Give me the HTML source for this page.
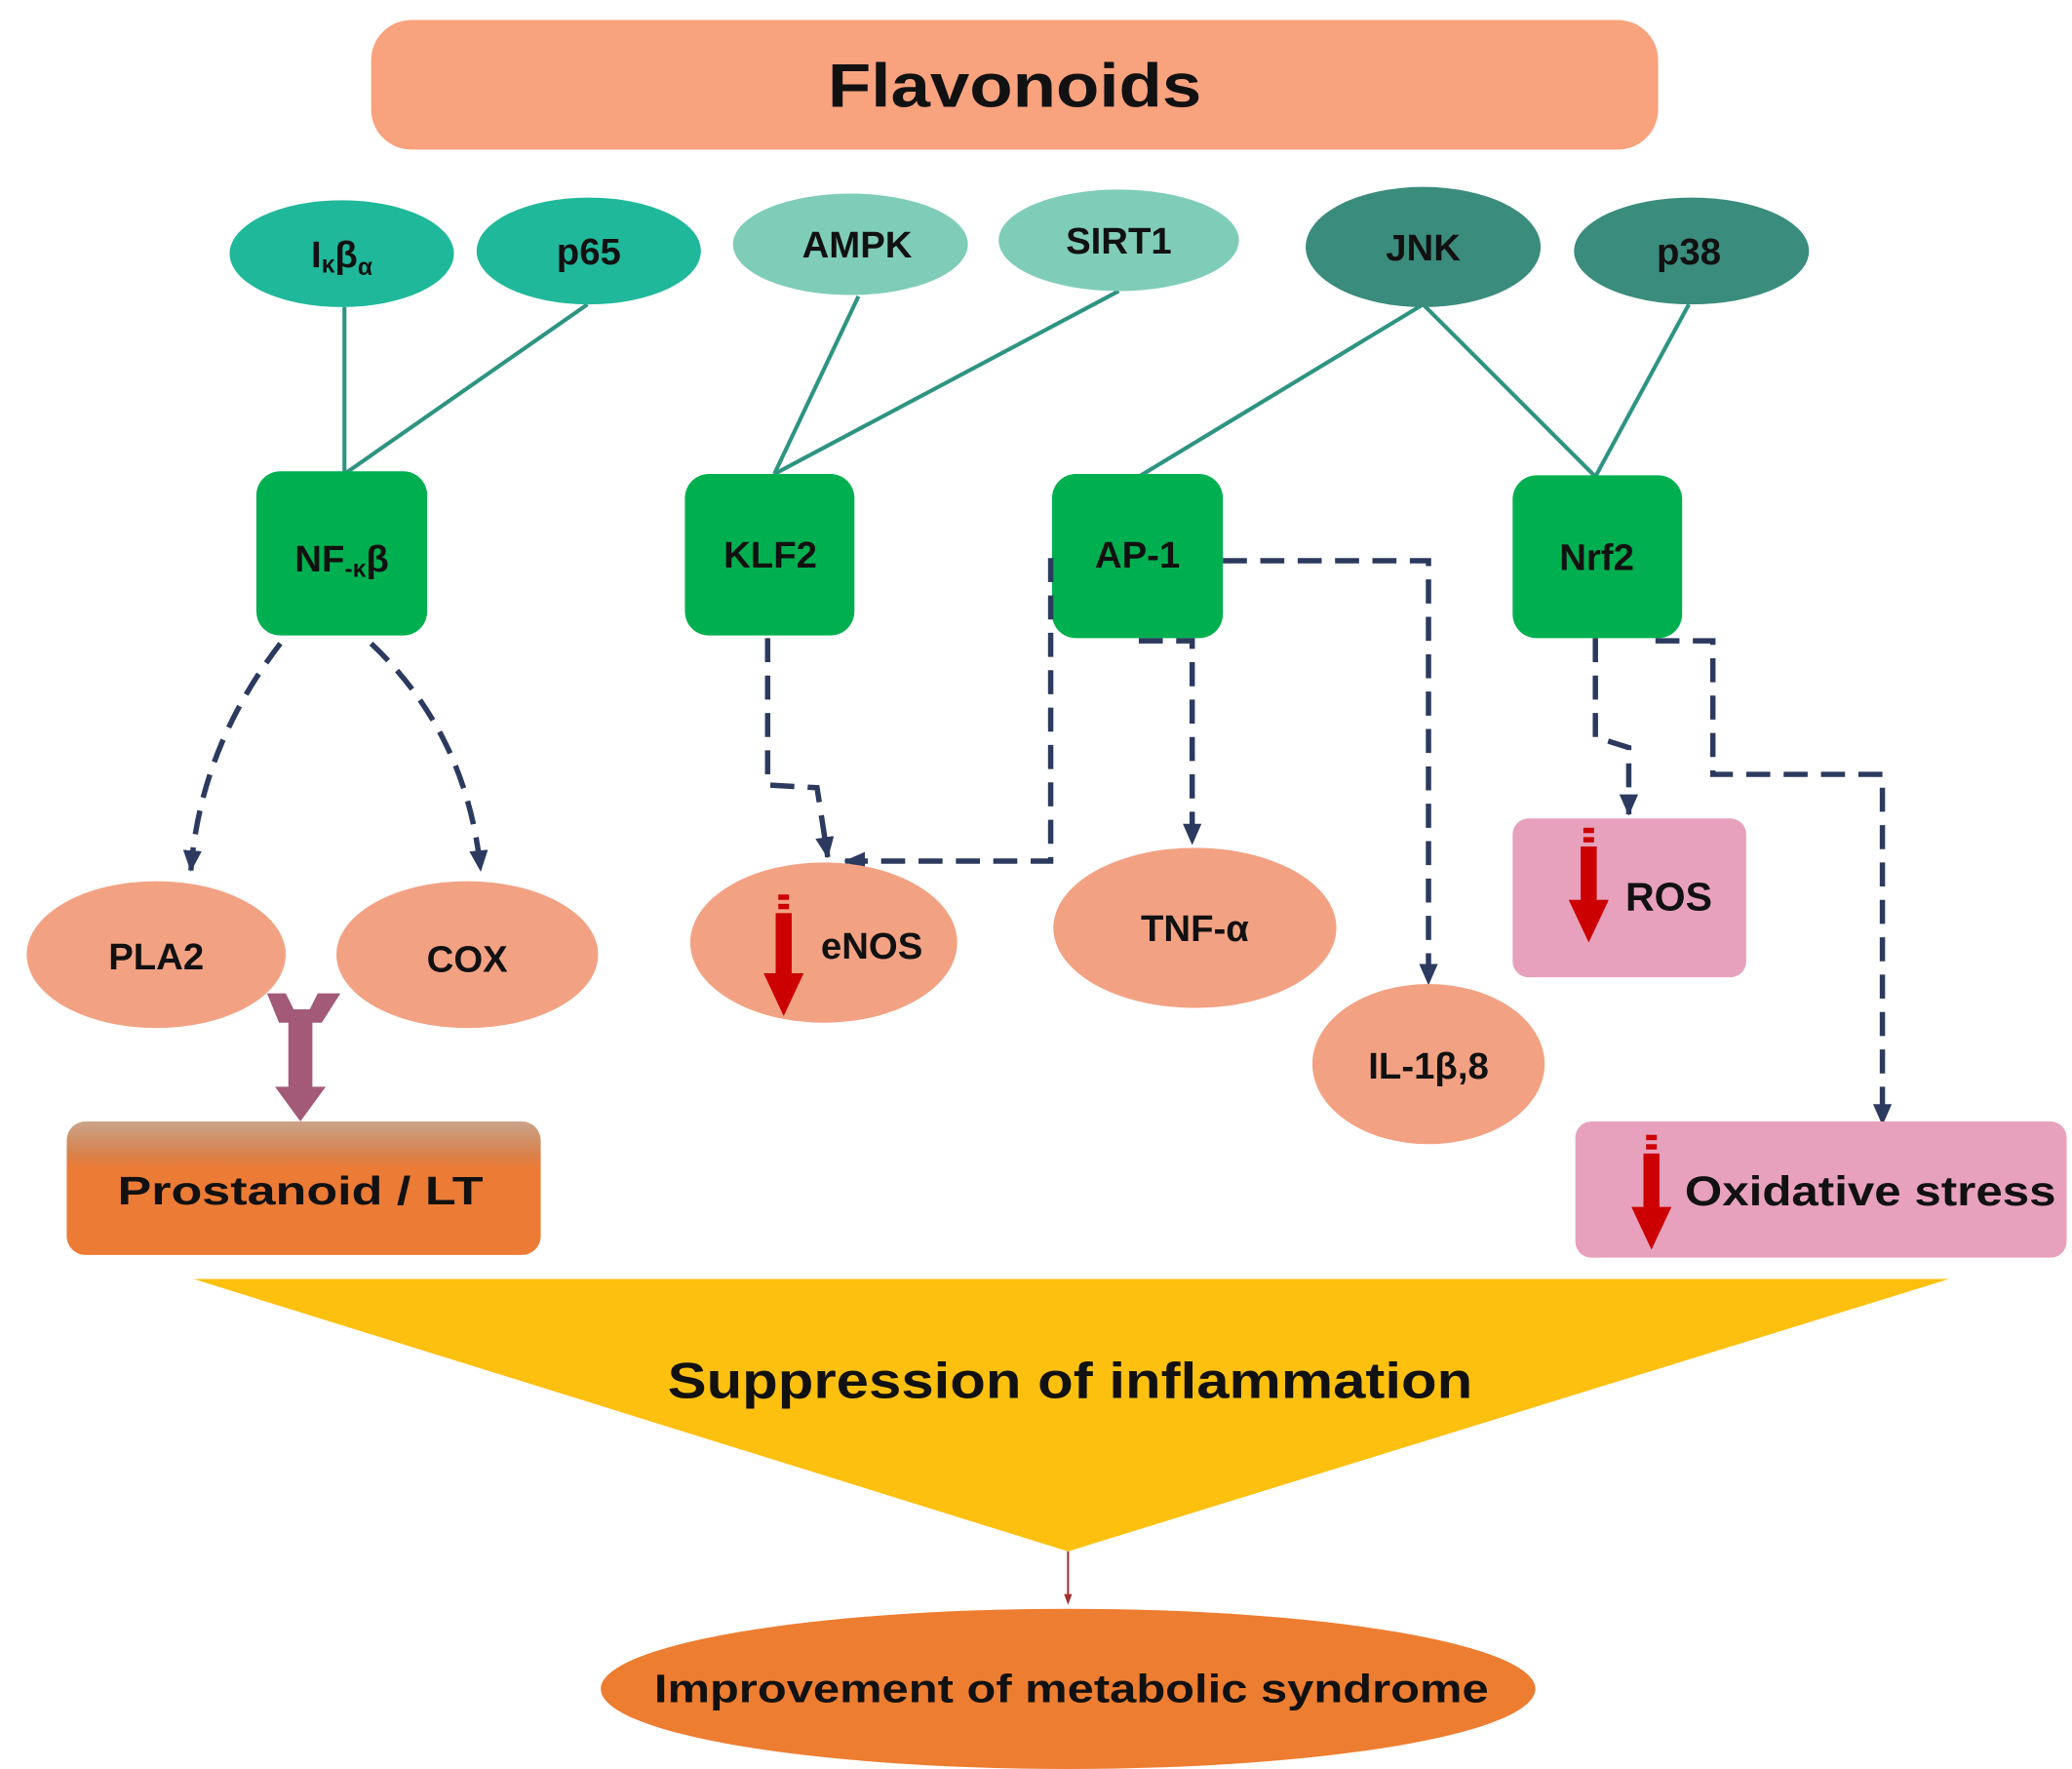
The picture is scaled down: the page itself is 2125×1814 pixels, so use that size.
<!DOCTYPE html>
<html><head><meta charset="utf-8"><style>
html,body{margin:0;padding:0;background:#fff}
svg{display:block}
text{font-family:"Liberation Sans",Arial,sans-serif;font-weight:bold;fill:#111}
</style></head><body>
<svg width="2125" height="1814" viewBox="0 0 1552 1325" preserveAspectRatio="none" xmlns="http://www.w3.org/2000/svg">
<defs>
<marker id="ah" markerWidth="16" markerHeight="16" refX="15" refY="8" orient="auto" markerUnits="userSpaceOnUse" viewBox="0 0 16 16"><path d="M0,1 L16,8 L0,15 z" fill="#2c3a5f"/></marker>
<linearGradient id="pg" x1="0" y1="0" x2="0" y2="1"><stop offset="0" stop-color="#c9a48a"/><stop offset="0.25" stop-color="#d9804a"/><stop offset="0.35" stop-color="#ec7b36"/><stop offset="1" stop-color="#ec7b36"/></linearGradient>
</defs>
<rect x="278" y="15" width="964" height="97" rx="30" fill="#f9a27e"/>
<text x="760" y="80" font-size="46" text-anchor="middle" textLength="280" lengthAdjust="spacingAndGlyphs">Flavonoids</text>
<g stroke="#2e9482" stroke-width="3" fill="none">
<line x1="258" y1="230" x2="258" y2="355"/><line x1="440" y1="228" x2="258" y2="355"/>
<line x1="643" y1="222" x2="580" y2="355"/><line x1="838" y1="218" x2="580" y2="355"/>
<line x1="1066" y1="228" x2="853" y2="357"/><line x1="1066" y1="228" x2="1195" y2="357"/>
<line x1="1265" y1="228" x2="1195" y2="357"/>
</g>
<ellipse cx="256" cy="190" rx="84" ry="40" fill="#20b89a"/>
<ellipse cx="441" cy="188" rx="84" ry="40" fill="#20b89a"/>
<ellipse cx="637" cy="183" rx="88" ry="38" fill="#7fcdb8"/>
<ellipse cx="838" cy="180" rx="90" ry="38" fill="#7fcdb8"/>
<ellipse cx="1066" cy="185" rx="88" ry="45" fill="#3a8c7c"/>
<ellipse cx="1267" cy="188" rx="88" ry="40" fill="#3a8c7c"/>
<text x="256" y="200" font-size="28" text-anchor="middle">I<tspan font-size="18" dy="4">κ</tspan><tspan dy="-4">β</tspan><tspan font-size="18" dy="6">α</tspan></text>
<text x="441" y="198" font-size="28" text-anchor="middle">p65</text>
<text x="642" y="193" font-size="28" text-anchor="middle">AMPK</text>
<text x="838" y="190" font-size="28" text-anchor="middle">SIRT1</text>
<text x="1066" y="195" font-size="28" text-anchor="middle">JNK</text>
<text x="1265" y="198" font-size="28" text-anchor="middle">p38</text>
<g fill="#00b050">
<rect x="192" y="353" width="128" height="123" rx="18"/>
<rect x="513" y="355" width="127" height="121" rx="18"/>
<rect x="788" y="355" width="128" height="123" rx="18"/>
<rect x="1133" y="356" width="127" height="122" rx="18"/>
</g>
<text x="256" y="428" font-size="28" text-anchor="middle">NF<tspan font-size="18" dy="4">-κ</tspan><tspan dy="-4">β</tspan></text>
<text x="577" y="425" font-size="28" text-anchor="middle">KLF2</text>
<text x="852" y="425" font-size="28" text-anchor="middle">AP-1</text>
<text x="1196" y="427" font-size="28" text-anchor="middle">Nrf2</text>
<g stroke="#2c3a5f" stroke-width="4" fill="none" stroke-dasharray="18,10">
<path d="M210,482 Q150,560 143,652" marker-end="url(#ah)"/>
<path d="M278,482 Q350,550 360,652" marker-end="url(#ah)"/>
<path d="M575,478 L575,588 L612,590 L620,642" marker-end="url(#ah)"/>
<path d="M787,418 L787,645 L633,645" marker-end="url(#ah)"/>
<path d="M916,420 L1070,420 L1070,737" marker-end="url(#ah)"/>
<path d="M853,480 L893,480 L893,632" marker-end="url(#ah)"/>
<path d="M1195,478 L1195,552 L1220,560 L1220,610" marker-end="url(#ah)"/>
<path d="M1240,480 L1283,480 L1283,580 L1410,580 L1410,842" marker-end="url(#ah)"/>
</g>
<g fill="#f2a283">
<ellipse cx="117" cy="715" rx="97" ry="55"/>
<ellipse cx="350" cy="715" rx="98" ry="55"/>
<ellipse cx="617" cy="706" rx="100" ry="60"/>
<ellipse cx="895" cy="695" rx="106" ry="60"/>
<ellipse cx="1070" cy="797" rx="87" ry="60"/>
</g>
<rect x="1133" y="613" width="175" height="119" rx="12" fill="#e8a1bd"/>
<rect x="1180" y="840" width="368" height="102" rx="12" fill="#e8a1bd"/>
<g fill="#cc0000">
<rect x="583" y="670" width="8" height="4"/><rect x="583" y="677" width="8" height="4"/><path d="M581,684 h12 v45 h9 l-15,32 l-15,-32 h9 z"/>
<rect x="1186" y="620" width="8" height="4"/><rect x="1186" y="627" width="8" height="4"/><path d="M1184,634 h12 v40 h9 l-15,32 l-15,-32 h9 z"/>
<rect x="1233" y="850" width="8" height="4"/><rect x="1233" y="857" width="8" height="4"/><path d="M1231,864 h12 v40 h9 l-15,32 l-15,-32 h9 z"/>
</g>
<text x="117" y="726" font-size="28" text-anchor="middle">PLA2</text>
<text x="350" y="728" font-size="28" text-anchor="middle">COX</text>
<text x="653" y="718" font-size="28" text-anchor="middle">eNOS</text>
<text x="895" y="705" font-size="28" text-anchor="middle">TNF-α</text>
<text x="1070" y="808" font-size="28" text-anchor="middle">IL-1β,8</text>
<text x="1250" y="682" font-size="30" text-anchor="middle">ROS</text>
<text x="1262" y="903" font-size="31" textLength="278" lengthAdjust="spacingAndGlyphs">Oxidative stress</text>
<rect x="50" y="840" width="355" height="100" rx="14" fill="url(#pg)"/>
<text x="88" y="902" font-size="30" textLength="274" lengthAdjust="spacingAndGlyphs">Prostanoid / LT</text>
<g fill="#a25a78">
<path d="M200,744 h14 l6,12 h12 l6,-12 h17 l-14,22 h-7 v48 h10 l-19,26 l-19,-26 h10 v-48 h-7 z"/>
</g>
<polygon points="145,958 1460,958 800,1162" fill="#fdc00f"/>
<text x="500" y="1047" font-size="38" textLength="603" lengthAdjust="spacingAndGlyphs">Suppression of inflammation</text>
<line x1="800" y1="1162" x2="800" y2="1200" stroke="#a03030" stroke-width="1.5"/>
<path d="M797,1194 L800,1202 L803,1194 z" fill="#a03030"/>
<ellipse cx="800" cy="1265" rx="350" ry="60" fill="#ed7d31"/>
<text x="490" y="1275" font-size="30" textLength="625" lengthAdjust="spacingAndGlyphs">Improvement of metabolic syndrome</text>
</svg>
</body></html>
